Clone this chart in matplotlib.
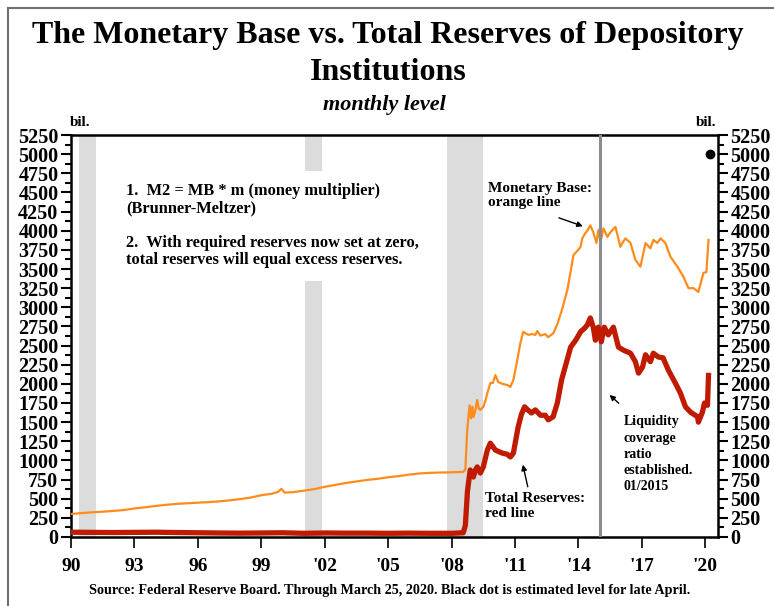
import matplotlib
matplotlib.use("Agg")
import matplotlib.pyplot as plt
from matplotlib.lines import Line2D
from matplotlib.ticker import MultipleLocator

# monetary base (bil.)
mb_years = [1990.0, 1990.5, 1991.0, 1991.5, 1992.0, 1992.5, 1993.0, 1993.5, 1994.0, 1994.5,
            1995.0, 1995.5, 1996.0, 1996.5, 1997.0, 1997.5, 1998.0, 1998.5, 1999.0, 1999.5,
            1999.8, 1999.95, 2000.1, 2000.5, 2001.0, 2001.5, 2002.0, 2002.5, 2003.0, 2003.5,
            2004.0, 2004.5, 2005.0, 2005.5, 2006.0, 2006.5, 2007.0, 2007.5, 2008.0, 2008.55,
            2008.65, 2008.74, 2008.85, 2008.92, 2008.98, 2009.03, 2009.12, 2009.21, 2009.28, 2009.36,
            2009.5, 2009.6, 2009.69, 2009.83, 2009.95, 2010.07, 2010.2, 2010.4, 2010.63, 2010.78,
            2010.92, 2011.1, 2011.25, 2011.39, 2011.5, 2011.63, 2011.8, 2011.96, 2012.05, 2012.2,
            2012.43, 2012.57, 2012.81, 2013.0, 2013.2, 2013.47, 2013.65, 2013.76, 2013.99, 2014.1,
            2014.18, 2014.3, 2014.42, 2014.56, 2014.7, 2014.85, 2014.94, 2015.04, 2015.18, 2015.37,
            2015.51, 2015.75, 2015.98, 2016.1, 2016.22, 2016.46, 2016.69, 2016.93, 2017.17, 2017.4,
            2017.54, 2017.73, 2017.88, 2018.11, 2018.35, 2018.68, 2018.96, 2019.2, 2019.44, 2019.67,
            2019.91, 2020.05, 2020.15]
mb_values = [300, 312, 322, 330, 340, 352, 372, 388, 405, 420,
             432, 440, 448, 455, 465, 478, 495, 515, 545, 565,
             590, 630, 580, 585, 605, 625, 655, 680, 705, 725,
             745, 760, 780, 795, 815, 830, 838, 842, 845, 850,
             880, 1400, 1720, 1550, 1700, 1567, 1650, 1790, 1680, 1660,
             1700, 1780, 1880, 2010, 2010, 2115, 2025, 2000, 1985, 1960,
             2050, 2300, 2530, 2680, 2660, 2640, 2650, 2640, 2690, 2630,
             2650, 2610, 2660, 2780, 2950, 3220, 3500, 3680, 3750, 3790,
             3900, 3960, 4000, 4070, 3980, 3840, 4010, 3850, 4030, 3920,
             3980, 4050, 3790, 3850, 3900, 3840, 3620, 3530, 3840, 3770,
             3880, 3840, 3900, 3840, 3660, 3530, 3400, 3250, 3250, 3200,
             3450, 3460, 3880]

# total reserves of depository institutions (bil.)
tr_years = [1990.0, 1991.0, 1992.0, 1993.0, 1994.0, 1995.0, 1996.0, 1997.0, 1998.0, 1999.0,
            2000.0, 2001.0, 2002.0, 2003.0, 2004.0, 2005.0, 2006.0, 2007.0, 2008.0, 2008.55,
            2008.65, 2008.75, 2008.88, 2008.95, 2009.03, 2009.12, 2009.21, 2009.36, 2009.5, 2009.69,
            2009.83, 2009.95, 2010.07, 2010.4, 2010.63, 2010.78, 2010.92, 2011.15, 2011.3, 2011.45,
            2011.6, 2011.78, 2011.96, 2012.2, 2012.43, 2012.57, 2012.8, 2013.0, 2013.2, 2013.5,
            2013.63, 2013.87, 2014.1, 2014.3, 2014.42, 2014.56, 2014.7, 2014.8, 2014.94, 2015.08,
            2015.22, 2015.41, 2015.65, 2015.89, 2016.13, 2016.46, 2016.69, 2016.84, 2017.03, 2017.17,
            2017.4, 2017.54, 2017.78, 2018.0, 2018.25, 2018.58, 2018.82, 2019.06, 2019.3, 2019.63,
            2019.67, 2019.86, 2019.96, 2020.1, 2020.15]
tr_values = [62, 60, 58, 60, 62, 58, 55, 52, 50, 52,
             55, 48, 52, 50, 50, 48, 50, 48, 48, 55,
             150, 600, 875, 850, 783, 870, 915, 835, 915, 1135,
             1225, 1180, 1135, 1095, 1080, 1045, 1095, 1440, 1600, 1700,
             1660, 1620, 1660, 1590, 1590, 1530, 1570, 1750, 2050, 2350,
             2480, 2570, 2680, 2730, 2770, 2860, 2740, 2570, 2740, 2550,
             2740, 2640, 2740, 2480, 2440, 2400, 2290, 2140, 2220, 2380,
             2290, 2400, 2350, 2340, 2180, 2010, 1880, 1700, 1630, 1570,
             1500, 1630, 1750, 1720, 2110]

recessions = [(1990.4, 1991.2), (2001.07, 2001.88), (2007.8, 2009.5)]
lcr_year = 2015.0
april_year, april_value = 2020.2, 5000

x_ticks = [1990, 1993, 1996, 1999, 2002, 2005, 2008, 2011, 2014, 2017, 2020]
x_labels = ["90", "93", "96", "99", "'02", "'05", "'08", "'11", "'14", "'17", "'20"]

SERIF = ["Liberation Serif", "DejaVu Serif"]
plt.rcParams["font.family"] = SERIF
plt.rcParams["font.weight"] = "bold"

fig = plt.figure(figsize=(7.74, 6.06), dpi=100)
ax = fig.add_axes([0.0917, 0.1139, 0.8360, 0.6633])

for start, end in recessions:
    ax.axvspan(start, end, color="#dcdcdc", lw=0, zorder=0)

ax.plot(mb_years, mb_values, color="#ff8c1a", lw=1.6, zorder=3)
ax.axvline(lcr_year, color="#8c8c8c", lw=2.2, zorder=4)
ax.plot(tr_years, tr_values, color="#c01a00", lw=3.8, zorder=5, solid_joinstyle="round")
ax.plot([april_year], [april_value], "o", color="black", ms=6, zorder=6)

ax.set_xlim(1990, 2020.6)
ax.set_ylim(0, 5250)
ax.set_xticks(x_ticks)
ax.set_xticklabels(x_labels)
ax.yaxis.set_major_locator(MultipleLocator(250))
ax.yaxis.set_minor_locator(MultipleLocator(125))
ax.tick_params(axis="y", which="both", left=True, right=True, labelleft=True, labelright=True,
               direction="out", labelsize=14.5, width=1.5)
ax.tick_params(axis="y", which="major", length=7, pad=2)
ax.tick_params(axis="y", which="minor", length=4)
ax.tick_params(axis="x", direction="out", length=8, width=1.2, labelsize=14, pad=7)
for lbl in ax.get_xticklabels() + ax.get_yticklabels():
    lbl.set_fontweight("bold")
for s in ax.spines.values():
    s.set_linewidth(1.8)

# annotations
ax.text(1992.6, 4620, "1.  M2 = MB * m (money multiplier)\n(Brunner-Meltzer)\n\n"
        "2.  With required reserves now set at zero,\ntotal reserves will equal excess reserves.",
        fontsize=11.8, va="top", ha="left", linespacing=1.1, zorder=2,
        bbox=dict(facecolor="white", edgecolor="none", pad=9))
ax.text(2009.7, 4640, "Monetary Base:\norange line", fontsize=11, va="top", ha="left", linespacing=1.15)
ax.annotate("", xy=(2014.33, 4047), xytext=(2012.95, 4180),
            arrowprops=dict(arrowstyle="-|>", color="black", lw=1, mutation_scale=8))
ax.text(2009.6, 590, "Total Reserves:\nred line", fontsize=11, va="top", ha="left", linespacing=1.25)
ax.annotate("", xy=(2011.34, 980), xytext=(2011.63, 620),
            arrowprops=dict(arrowstyle="-|>", color="black", lw=1, mutation_scale=8))
ax.text(2016.12, 1590, "Liquidity\ncoverage\nratio\nestablished.\n01/2015", fontsize=10,
        va="top", ha="left", linespacing=1.33)
ax.annotate("", xy=(2015.37, 1880), xytext=(2016.0, 1723),
            arrowprops=dict(arrowstyle="-|>", color="black", lw=1, mutation_scale=8))

fig.text(0.501, 0.942, "The Monetary Base vs. Total Reserves of Depository", ha="center", va="center",
         fontsize=23)
fig.text(0.501, 0.881, "Institutions", ha="center", va="center", fontsize=23)
fig.text(0.497, 0.826, "monthly level", ha="center", va="center", fontsize=16, style="italic")
fig.text(0.103, 0.798, "bil.", ha="center", va="center", fontsize=11)
fig.text(0.912, 0.798, "bil.", ha="center", va="center", fontsize=11)
fig.text(0.503, 0.025, "Source: Federal Reserve Board. Through March 25, 2020. Black dot is estimated level for late April.",
         ha="center", va="center", fontsize=10.2)

# frame lines along the top and left edge of the picture
fig.add_artist(Line2D([8 / 774, 1.0], [1 - 8 / 606, 1 - 8 / 606], color="#707070", lw=1.5))
fig.add_artist(Line2D([8 / 774, 8 / 774], [0.0, 1 - 8 / 606], color="#707070", lw=1.5))

fig.savefig("out.png", dpi=100)
